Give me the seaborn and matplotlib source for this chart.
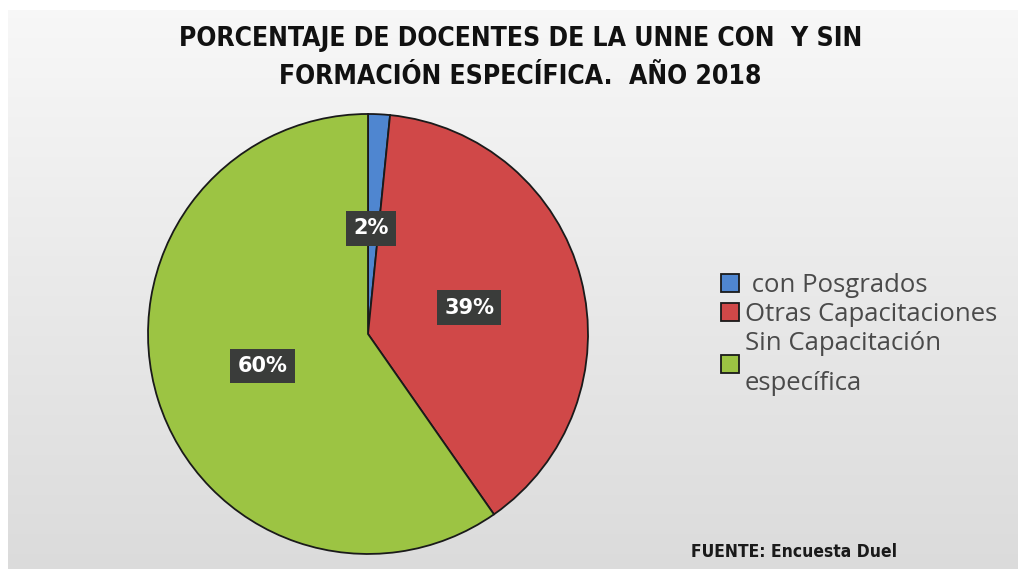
import numpy as np
import matplotlib
matplotlib.use('Agg')
import matplotlib.pyplot as plt
import seaborn as sns

categories = [' con Posgrados', 'Otras Capacitaciones', 'Sin Capacitación\nespecífica']
values = [1.6, 38.7, 59.7]
pct_labels = ['2%', '39%', '60%']
colors = ['#4f86d0', '#d04848', '#9cc443']

sns.set_theme(style='white')
plt.rcParams['font.family'] = ['DejaVu Sans']

fig = plt.figure(figsize=(10.18, 5.69), dpi=100)
fig.patch.set_facecolor('white')

# fondo gris con degradado
bg = fig.add_axes([0.008, 0, 0.992, 0.982])
grad = np.linspace(0.97, 0.86, 256).reshape(-1, 1)
bg.imshow(np.dstack([grad, grad, grad]), aspect='auto', extent=[0, 1, 0, 1], origin='upper')
bg.set_axis_off()

# torta
ax = fig.add_axes([0.1454, 0.0264, 0.4322, 0.7733])
wedges, _ = ax.pie(values, colors=colors, startangle=90, counterclock=False,
                   wedgeprops=dict(edgecolor='#1a1a1a', linewidth=1.3))
for w in wedges:
    w.set_clip_on(False)
ax.set_xlim(-1, 1)
ax.set_ylim(-1, 1)
ax.set_aspect('equal')

label_pos = [(0.014, 0.48), (0.46, 0.12), (-0.48, -0.145)]
for (x, y), txt in zip(label_pos, pct_labels):
    ax.text(x, y, txt, ha='center', va='center', color='white', fontsize=15, fontweight='bold',
            bbox=dict(boxstyle='square,pad=0.35', facecolor='#3a3c3a', edgecolor='none'))

title_font = dict(fontsize=19, fontweight='bold', color='#111111', fontstretch='condensed')
fig.text(0.511, 0.931, 'PORCENTAJE DE DOCENTES DE LA UNNE CON  Y SIN', ha='center', va='center', **title_font)
fig.text(0.511, 0.865, 'FORMACIÓN ESPECÍFICA.  AÑO 2018', ha='center', va='center', **title_font)

leg = fig.legend(wedges, categories, loc='upper left', bbox_to_anchor=(0.686, 0.56),
                 frameon=False, handlelength=0.7, handleheight=0.7,
                 handletextpad=0.2, labelspacing=0.15,
                 prop={'family': ['Open Sans'], 'size': 18.5})
for t in leg.get_texts():
    t.set_color('#4a4a4a')
    t.set_linespacing(1.8)

fig.text(0.679, 0.03, 'FUENTE: Encuesta Duel', ha='left', va='center', fontsize=12.5,
         fontweight='bold', color='#1a1a1a', fontstretch='condensed')

fig.savefig('out.png', dpi=100, facecolor=fig.get_facecolor())
